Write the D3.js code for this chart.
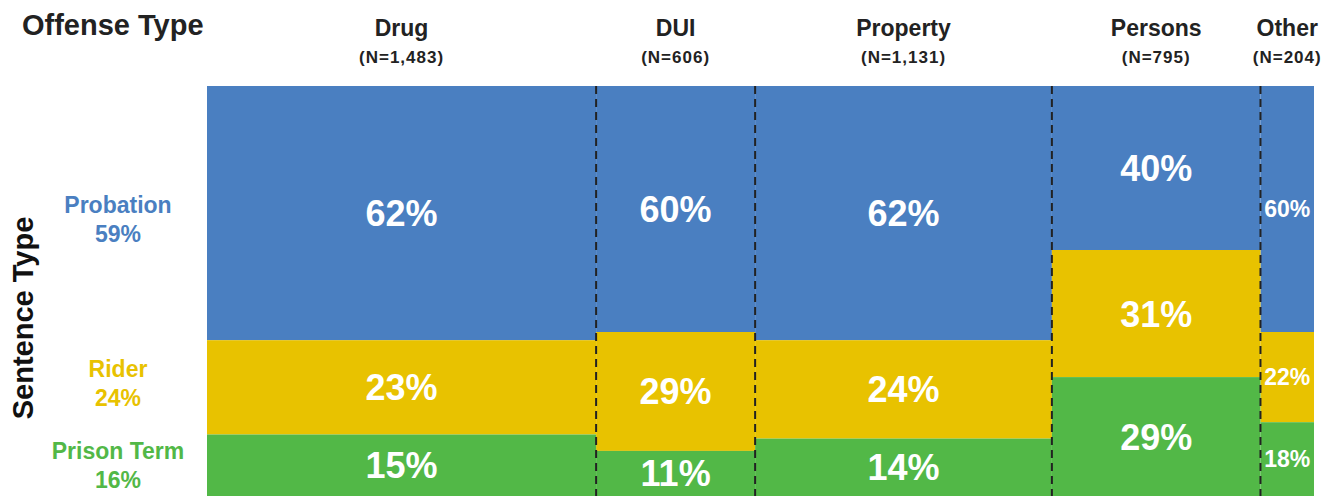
<!DOCTYPE html>
<html>
<head>
<meta charset="utf-8">
<script src="https://cdn.jsdelivr.net/npm/d3@7"></script>
<style>
  body { margin: 0; background: #fff; }
  text { font-family: "Liberation Sans", Arial, Helvetica, sans-serif; font-weight: bold; }
</style>
</head>
<body>
<svg width="1334" height="496"></svg>
<script>
// offense types and counts (column widths)
var offenses = ["Drug", "DUI", "Property", "Persons", "Other"];
var counts = [1483, 606, 1131, 795, 204];

// sentence types, overall share
var sentences = ["Probation", "Rider", "Prison Term"];
var overall = [59, 24, 16];

// percent by offense type
var probation = [62, 60, 62, 40, 60];
var rider = [23, 29, 24, 31, 22];
var prison = [15, 11, 14, 29, 18];

var svg = d3.select("svg"),
    width = +svg.attr("width"),
    height = +svg.attr("height");

var colors = ["#4a7fc1", "#e8c200", "#52b847"];
var keys = ["probation", "rider", "prison"];

var plot = { left: 207, right: 1314, top: 86, bottom: 496 };

var rows = offenses.map(function(o, i) {
  var start = d3.sum(counts.slice(0, i));
  return { name: o, n: counts[i], start: start, end: start + counts[i],
           probation: probation[i], rider: rider[i], prison: prison[i] };
});

var x = d3.scaleLinear()
    .domain([0, d3.sum(counts)])
    .range([plot.left, plot.right]);

var y = d3.scaleLinear()
    .domain([0, 100])
    .range([plot.top, plot.bottom]);

var series = d3.stack().keys(keys)(rows);

var layer = svg.append("g").selectAll("g")
  .data(series)
  .enter().append("g")
    .attr("fill", function(d, i) { return colors[i]; });

layer.selectAll("rect")
  .data(function(d) { return d; })
  .enter().append("rect")
    .attr("x", function(d) { return x(d.data.start); })
    .attr("width", function(d) { return x(d.data.end) - x(d.data.start); })
    .attr("y", function(d) { return y(d[0]); })
    .attr("height", function(d) { return y(d[1]) - y(d[0]); });

// percent labels in cells
layer.selectAll("text")
  .data(function(d) { return d.map(function(c) { c.key = d.key; return c; }); })
  .enter().append("text")
    .attr("x", function(d) { return (x(d.data.start) + x(d.data.end)) / 2; })
    .attr("y", function(d) { return (y(d[0]) + y(d[1])) / 2; })
    .attr("dy", "0.36em")
    .attr("text-anchor", "middle")
    .attr("fill", "#fff")
    .attr("font-size", function(d) { return (x(d.data.end) - x(d.data.start)) < 80 ? "23px" : "36px"; })
    .text(function(d) { return d.data[d.key] + "%"; });

// dashed dividers between columns
svg.append("g").selectAll("line")
  .data(rows.slice(1))
  .enter().append("line")
    .attr("x1", function(d) { return x(d.start); })
    .attr("x2", function(d) { return x(d.start); })
    .attr("y1", plot.top)
    .attr("y2", plot.bottom)
    .attr("stroke", "#222")
    .attr("stroke-width", 2)
    .attr("stroke-dasharray", "8,5");

// column headers
var head = svg.append("g").selectAll("g")
  .data(rows)
  .enter().append("g")
    .attr("transform", function(d) { return "translate(" + (x(d.start) + x(d.end)) / 2 + ",0)"; });

head.append("text")
    .attr("y", 36)
    .attr("text-anchor", "middle")
    .attr("font-size", "23px")
    .attr("fill", "#222")
    .text(function(d) { return d.name; });

head.append("text")
    .attr("y", 63)
    .attr("text-anchor", "middle")
    .attr("font-size", "17px")
    .attr("letter-spacing", "1px")
    .attr("fill", "#222")
    .text(function(d) { return "(N=" + d3.format(",")(d.n) + ")"; });

svg.append("text")
    .attr("x", 22)
    .attr("y", 35)
    .attr("font-size", "29px")
    .attr("fill", "#222")
    .text("Offense Type");

svg.append("text")
    .attr("transform", "translate(33,318) rotate(-90)")
    .attr("text-anchor", "middle")
    .attr("font-size", "29px")
    .attr("fill", "#111")
    .text("Sentence Type");

// overall sentence-type labels on the left
var labelY = [213, 377, 459];
var side = svg.append("g").selectAll("g")
  .data(sentences)
  .enter().append("g")
    .attr("fill", function(d, i) { return colors[i]; })
    .attr("transform", function(d, i) { return "translate(118," + labelY[i] + ")"; });

side.append("text")
    .attr("text-anchor", "middle")
    .attr("font-size", "23px")
    .text(function(d) { return d; });

side.append("text")
    .attr("y", 29)
    .attr("text-anchor", "middle")
    .attr("font-size", "23px")
    .text(function(d, i) { return overall[i] + "%"; });
</script>
</body>
</html>
